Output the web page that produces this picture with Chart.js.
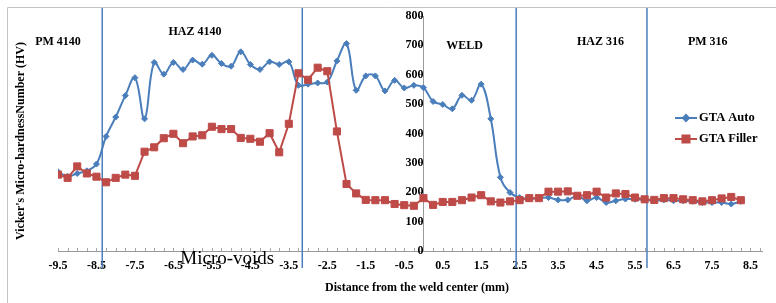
<!DOCTYPE html>
<html>
<head>
<meta charset="utf-8">
<script src="https://cdn.jsdelivr.net/npm/chart.js"></script>
<style>
  html, body { margin: 0; padding: 0; background: #fff; }
  #wrap { position: relative; width: 776px; height: 303px; }
</style>
</head>
<body>
<div id="wrap"><canvas id="hardness-chart"></canvas></div>
<script>
// 측정 위치 (용접 중심으로부터 거리, mm)
const distances = [
  -9.5, -9.25, -9, -8.75, -8.5, -8.25, -8, -7.75,
  -7.5, -7.25, -7, -6.75, -6.5, -6.25, -6, -5.75,
  -5.5, -5.25, -5, -4.75, -4.5, -4.25, -4, -3.75,
  -3.5, -3.25, -3, -2.75, -2.5, -2.25, -2, -1.75,
  -1.5, -1.25, -1, -0.75, -0.5, -0.25, 0, 0.25,
  0.5, 0.75, 1, 1.25, 1.5, 1.75, 2, 2.25,
  2.5, 2.75, 3, 3.25, 3.5, 3.75, 4, 4.25,
  4.5, 4.75, 5, 5.25, 5.5, 5.75, 6, 6.25,
  6.5, 6.75, 7, 7.25, 7.5, 7.75, 8, 8.25
];

const gtaAuto = [
  270, 254, 264, 273, 296, 390, 456, 529,
  590, 450, 642, 602, 642, 618, 650, 636,
  666, 638, 629, 678, 635, 618, 644, 635,
  644, 564, 568, 572, 575, 647, 706, 547,
  596, 596, 545, 581, 555, 564, 556, 509,
  499, 484, 530, 513, 568, 450, 251, 199,
  182, 178, 180, 182, 174, 174, 188, 171,
  182, 165, 171, 177, 176, 174, 171, 174,
  171, 171, 169, 165, 165, 165, 160, 169
];

const gtaFiller = [
  260, 249, 288, 264, 253, 234, 249, 260,
  256, 338, 353, 384, 399, 367, 390, 394,
  423, 415, 415, 385, 382, 372, 401, 336,
  433, 605, 583, 624, 612, 407, 228, 196,
  174, 173, 173, 160, 156, 154, 180, 157,
  167, 167, 173, 182, 190, 169, 165, 169,
  173, 180, 180, 202, 202, 203, 188, 190,
  202, 182, 196, 194, 182, 176, 174, 180,
  180, 176, 173, 169, 173, 179, 184, 173
];

const xTickLabels = [-9.5, -8.5, -7.5, -6.5, -5.5, -4.5, -3.5, -2.5, -1.5, -0.5,
  0.5, 1.5, 2.5, 3.5, 4.5, 5.5, 6.5, 7.5, 8.5];
const yTickValues = [0, 100, 200, 300, 400, 500, 600, 700, 800];

// 영역 경계 (mm)
const zoneBounds = [-8.35, -3.15, 2.41, 5.81];
const zoneNames = ['PM 4140', 'HAZ 4140', 'WELD', 'HAZ 316', 'PM 316'];

const SERIF = "'Liberation Serif', 'Times New Roman', serif";
const BLUE = '#4A7EBB';
const RED = '#BE4B48';

// 영역 이름 배치 (x: mm, y: HV)
const zoneLabelAt = [
  { x: -9.5, y: 711 },
  { x: -5.94, y: 745 },
  { x: 1.07, y: 697 },
  { x: 4.6, y: 711 },
  { x: 7.39, y: 711 }
];

const decorations = {
  id: 'decorations',
  beforeDraw(chart) {
    const ctx = chart.ctx;
    ctx.save();
    ctx.strokeStyle = '#c4c4c4';
    ctx.lineWidth = 1;
    ctx.beginPath();
    ctx.moveTo(7.5, chart.height);
    ctx.lineTo(7.5, 7.5);
    ctx.lineTo(chart.width, 7.5);
    ctx.stroke();
    ctx.restore();
  },
  beforeDatasetsDraw(chart) {
    const ctx = chart.ctx;
    const x = chart.scales.x;
    ctx.save();
    ctx.strokeStyle = BLUE;
    ctx.lineWidth = 1.5;
    zoneBounds.forEach(b => {
      const px = x.getPixelForValue(b);
      ctx.beginPath();
      ctx.moveTo(px, 8);
      ctx.lineTo(px, chart.chartArea.bottom + 17);
      ctx.stroke();
    });
    ctx.restore();
  },
  afterDraw(chart) {
    const ctx = chart.ctx;
    const x = chart.scales.x;
    const y = chart.scales.y;
    const area = chart.chartArea;
    ctx.save();

    // x축 보조 눈금 (축 안쪽)
    ctx.strokeStyle = '#a8a8a8';
    ctx.lineWidth = 1;
    x.ticks.forEach(t => {
      const px = Math.round(x.getPixelForValue(t.value)) + 0.5;
      ctx.beginPath();
      ctx.moveTo(px, area.bottom);
      ctx.lineTo(px, area.bottom - 3);
      ctx.stroke();
    });

    // 영역 이름
    ctx.fillStyle = '#000';
    ctx.font = 'bold 12px ' + SERIF;
    ctx.textAlign = 'center';
    ctx.textBaseline = 'middle';
    zoneNames.forEach((name, i) => {
      const p = zoneLabelAt[i];
      ctx.fillText(name, x.getPixelForValue(p.x), y.getPixelForValue(p.y));
    });

    // x축 제목
    ctx.fillText('Distance from the weld center (mm)', 417, 288);

    // y축 제목
    ctx.save();
    ctx.translate(21, 141);
    ctx.rotate(-Math.PI / 2);
    ctx.fillText("Vicker's Micro-hardnessNumber (HV)", 0, 0);
    ctx.restore();

    // Micro-voids 표시
    ctx.font = '19px ' + SERIF;
    ctx.fillText('Micro-voids', x.getPixelForValue(-5.1), y.getPixelForValue(-27));

    // 범례
    chart.data.datasets.forEach((ds, i) => {
      const ly = 118 + i * 21;
      ctx.strokeStyle = ds.borderColor;
      ctx.fillStyle = ds.backgroundColor;
      ctx.lineWidth = 2;
      ctx.beginPath();
      ctx.moveTo(675, ly);
      ctx.lineTo(697, ly);
      ctx.stroke();
      Chart.helpers.drawPoint(ctx, { pointStyle: ds.pointStyle, radius: ds.pointRadius, borderWidth: 1 }, 686, ly);
      ctx.fillStyle = '#000';
      ctx.font = 'bold 12.5px ' + SERIF;
      ctx.textAlign = 'left';
      ctx.fillText(ds.label, 699, ly);
    });

    ctx.restore();
  }
};

function toPoints(values) {
  return distances.map((d, i) => ({ x: d, y: values[i] }));
}

const tickFont = { family: SERIF, size: 12, weight: 'bold' };

new Chart(document.getElementById('hardness-chart'), {
  type: 'line',
  data: {
    datasets: [{
      label: 'GTA Auto',
      data: toPoints(gtaAuto),
      borderColor: BLUE,
      backgroundColor: BLUE,
      borderWidth: 2,
      pointStyle: 'rectRot',
      pointRadius: 3,
      pointBorderWidth: 1,
      tension: 0.4,
      order: 2
    }, {
      label: 'GTA Filler',
      data: toPoints(gtaFiller),
      borderColor: RED,
      backgroundColor: RED,
      borderWidth: 2,
      pointStyle: 'rect',
      pointRadius: 5,
      pointBorderWidth: 1,
      tension: 0,
      order: 1
    }]
  },
  options: {
    responsive: true,
    maintainAspectRatio: false,
    animation: false,
    layout: {
      padding: { left: 58, right: 14, top: 16, bottom: 21.6 }
    },
    scales: {
      x: {
        type: 'linear',
        min: -9.5,
        max: 8.8,
        afterBuildTicks: scale => {
          const ticks = [];
          for (let i = 0; i <= 73; i++) ticks.push({ value: -9.5 + i * 0.25 });
          scale.ticks = ticks;
        },
        grid: { display: true, drawOnChartArea: false, drawTicks: false },
        border: { display: true, color: '#9a9a9a', width: 1 },
        ticks: {
          autoSkip: false,
          maxRotation: 0,
          padding: 8,
          color: '#000',
          font: tickFont,
          callback: value => xTickLabels.includes(value) ? value.toFixed(1) : ''
        }
      },
      y: {
        type: 'linear',
        position: { x: 0 },
        min: 0,
        max: 800,
        afterBuildTicks: scale => {
          scale.ticks = yTickValues.map(v => ({ value: v }));
        },
        grid: { display: true, drawOnChartArea: false, drawTicks: true, tickLength: 4, color: '#9a9a9a' },
        border: { display: true, color: '#9a9a9a', width: 1 },
        ticks: {
          padding: 6,
          color: '#000',
          font: tickFont
        }
      }
    },
    plugins: {
      legend: { display: false },
      tooltip: { enabled: false }
    }
  },
  plugins: [decorations]
});
</script>
</body>
</html>
